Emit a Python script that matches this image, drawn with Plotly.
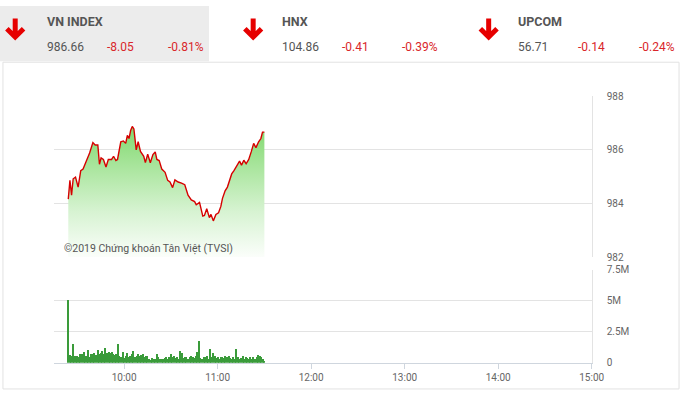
import plotly.graph_objects as go
import pandas as pd

W, H = 694, 393

# ---- Data ----
price_times = ["09:24:11","09:25:14","09:26:17","09:27:20","09:28:49","09:30:30","09:32:11","09:33:40",
    "09:35:46","09:37:52","09:39:58","09:41:27","09:43:08","09:44:11","09:45:14","09:46:43","09:48:23",
    "09:49:52","09:51:58","09:53:14","09:54:43","09:55:46","09:57:52","09:59:33","10:01:01","10:02:05",
    "10:03:08","10:04:11","10:05:14","10:06:17","10:07:46","10:09:01","10:10:30","10:12:36","10:13:39",
    "10:15:08","10:16:49","10:18:29","10:19:58","10:21:01","10:22:30","10:24:11","10:26:17","10:27:58",
    "10:29:26","10:31:07","10:32:36","10:34:42","10:36:49","10:38:55","10:41:01","10:43:07","10:45:14",
    "10:46:17","10:48:23","10:49:26","10:50:29","10:51:32","10:53:01","10:54:42","10:55:45","10:57:14",
    "10:58:55","11:00:35","11:02:04","11:03:07","11:04:48","11:06:17","11:07:45","11:09:01","11:10:29",
    "11:12:35","11:14:04","11:15:20","11:16:48","11:18:17","11:19:58","11:21:38","11:23:07","11:24:35",
    "11:26:17","11:27:45","11:28:48","11:30:00"]
price_values = [984.16,984.86,984.31,984.92,984.98,984.61,985.22,985.28,985.58,985.88,986.27,986.18,
    986.18,985.46,985.70,985.64,985.36,985.64,985.64,985.76,985.60,985.64,986.30,986.33,986.24,986.54,
    986.42,986.72,986.87,986.78,986.00,986.30,985.94,985.76,985.52,985.84,985.52,985.82,985.92,985.64,
    985.60,985.28,985.16,984.86,984.80,984.59,984.88,984.80,984.76,984.70,984.31,984.13,984.07,983.95,
    984.04,983.83,983.53,983.55,983.80,983.47,983.59,983.35,983.59,983.65,983.89,984.19,984.47,984.61,
    984.88,985.10,985.22,985.46,985.58,985.43,985.61,985.48,985.64,985.94,986.24,986.08,986.30,986.42,
    986.66,986.66]

vol_start = "09:24"
vol_values_m = [5.1,0.65,0.55,1.55,0.6,0.55,0.6,0.5,0.7,0.75,0.9,0.6,0.55,1.05,0.5,0.7,0.75,0.8,0.65,
    1.05,0.7,0.85,0.95,0.7,1.2,0.8,0.9,0.85,0.9,0.75,0.65,0.7,1.55,0.6,0.5,0.9,0.4,0.6,0.85,0.5,0.6,0.7,
    1.0,0.45,0.6,0.75,0.55,0.65,0.7,0.5,0.55,0.55,0.3,0.25,0.4,0.35,0.3,0.7,0.45,0.35,0.3,0.35,0.4,0.45,
    0.35,0.5,0.75,0.5,0.55,0.4,0.45,0.35,1.0,0.85,0.4,0.45,0.5,0.35,0.45,0.6,0.5,0.4,0.6,0.9,1.75,0.4,
    0.35,0.5,0.45,0.6,0.35,1.1,0.5,0.85,0.6,0.4,0.5,0.35,0.45,0.5,0.4,0.55,0.45,0.6,0.4,0.35,0.5,0.35,
    1.1,0.5,0.35,0.4,0.6,0.35,0.45,0.4,0.35,0.45,0.35,0.5,0.3,0.45,0.65,0.55,0.45,0.3,0.2]

price_ticks = [982, 984, 986, 988]
vol_tickvals = [0, 2.5e6, 5e6, 7.5e6]
vol_ticktext = ["0", "2.5M", "5M", "7.5M"]
hour_ticks = ["10:00", "11:00", "12:00", "13:00", "14:00", "15:00"]
x_range = ["09:15", "15:00"]

indices = [
    ("VN INDEX", "986.66", "-8.05", "-0.81%"),
    ("HNX", "104.86", "-0.41", "-0.39%"),
    ("UPCOM", "56.71", "-0.14", "-0.24%"),
]
credit = "©2019 Chứng khoán Tân Việt (TVSI)"

DAY = "2019-01-01 "
px_t = pd.to_datetime([DAY + t for t in price_times])
vol_t = pd.date_range(DAY + vol_start, periods=len(vol_values_m), freq="min")
vol_v = [v * 1e6 for v in vol_values_m]

def px(x):
    return x / W
def py(y):
    return 1 - y / H

fig = go.Figure()
fig.add_trace(go.Scatter(
    x=px_t, y=price_values, mode="lines", line=dict(color="#d60000", width=1.4),
    fill="tozeroy",
    fillgradient=dict(type="vertical", start=982, stop=987.2,
                      colorscale=[[0, "rgba(255,255,255,1)"], [0.35, "rgb(215,243,210)"], [1, "rgb(120,214,100)"]]),
    xaxis="x", yaxis="y", hoverinfo="skip", showlegend=False))
fig.add_trace(go.Bar(
    x=vol_t, y=vol_v, width=42000, marker=dict(color="rgb(58,155,58)", line=dict(width=0)),
    xaxis="x2", yaxis="y2", hoverinfo="skip", showlegend=False))

grid = "#e3e3e3"
tickfont = dict(family="Roboto, Arial, sans-serif", size=10, color="#666")
xr = [DAY + x_range[0], DAY + x_range[1]]
fig.update_layout(
    width=W, height=H, autosize=False, margin=dict(l=0, r=0, t=0, b=0),
    paper_bgcolor="white", plot_bgcolor="white", bargap=0,
    xaxis=dict(domain=[px(55), px(603)], anchor="y", type="date", range=xr,
               showgrid=False, showticklabels=False, zeroline=False, showline=False),
    yaxis=dict(domain=[py(259), py(93)], anchor="x", side="right", range=[982, 988],
               tickvals=price_ticks, ticktext=[str(v) for v in price_ticks],
               showgrid=True, gridcolor=grid, gridwidth=1, zeroline=False,
               showline=True, linecolor=grid, mirror=False, tickfont=tickfont,
               ticklabelstandoff=12),
    xaxis2=dict(domain=[px(55), px(603)], anchor="y2", type="date", range=xr,
                tickvals=[DAY + h for h in hour_ticks], ticktext=hour_ticks,
                showgrid=False, zeroline=False, showline=True, linecolor="#cfd6de",
                ticks="outside", ticklen=5, tickcolor="#cfd6de", tickfont=tickfont),
    yaxis2=dict(domain=[py(368), py(272)], anchor="x2", side="right", range=[0, 7.5e6],
                tickvals=vol_tickvals, ticktext=vol_ticktext,
                showgrid=True, gridcolor=grid, gridwidth=1, zeroline=False,
                showline=True, linecolor=grid, tickfont=tickfont, ticklabelstandoff=12),
)

shapes = []
shapes.append(dict(type="rect", xref="paper", yref="paper", x0=0, x1=px(213), y0=py(57), y1=1,
                   fillcolor="#ececec", line=dict(width=0), layer="below"))
shapes.append(dict(type="rect", xref="paper", yref="paper", x0=px(3), x1=px(692), y0=py(395), y1=py(58),
                   fillcolor="rgba(0,0,0,0)", line=dict(color="#e2e2e2", width=1)))
annotations = []
arrow_x = [15.5, 258, 498]
title_x = [46, 285, 526]
for i, (name, val, chg, pct) in enumerate(indices):
    ax = arrow_x[i]
    path = (f"M {px(ax)} {py(13)} L {px(ax)} {py(32)} "
            f"M {px(ax-8.5)} {py(23.5)} L {px(ax)} {py(32)} L {px(ax+8.5)} {py(23.5)}")
    shapes.append(dict(type="path", xref="paper", yref="paper", path=path,
                       line=dict(color="#e60000", width=5)))
    tx = title_x[i]
    annotations.append(dict(xref="paper", yref="paper", x=px(tx), y=py(16.5), xanchor="left", yanchor="middle",
                            text=f"<b>{name}</b>", showarrow=False,
                            font=dict(family="Roboto, Arial, sans-serif", size=12.5, color="#555")))
    annotations.append(dict(xref="paper", yref="paper", x=px(tx), y=py(42.5), xanchor="left", yanchor="middle",
                            text=val, showarrow=False,
                            font=dict(family="Roboto, Arial, sans-serif", size=12, color="#555")))
    annotations.append(dict(xref="paper", yref="paper", x=px(tx + 61), y=py(42.5), xanchor="left", yanchor="middle",
                            text=chg, showarrow=False,
                            font=dict(family="Roboto, Arial, sans-serif", size=12, color="#d9262a")))
    annotations.append(dict(xref="paper", yref="paper", x=px(tx + 123), y=py(42.5), xanchor="left", yanchor="middle",
                            text=pct, showarrow=False,
                            font=dict(family="Roboto, Arial, sans-serif", size=12, color="#d9262a")))

annotations.append(dict(xref="paper", yref="paper", x=px(63), y=py(250), xanchor="left", yanchor="middle",
                        text=credit, showarrow=False,
                        font=dict(family="Roboto, Arial, sans-serif", size=10.5, color="#555")))

fig.update_layout(shapes=shapes, annotations=annotations)
fig.write_html("out.html", config={"responsive": False})
